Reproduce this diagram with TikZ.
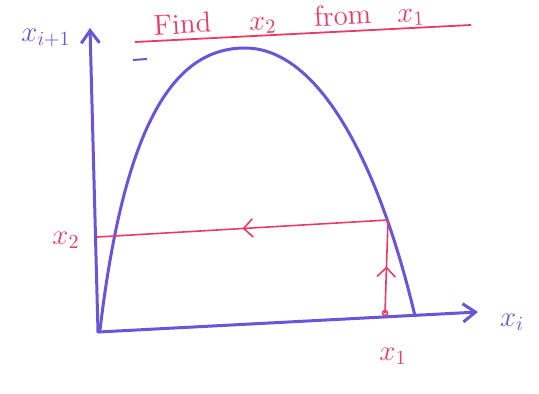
\documentclass[tikz,border=0pt]{standalone}
\usepackage{amsmath}
\usepackage{tikz}
\usetikzlibrary{arrows.meta,decorations.markings}
\definecolor{penblue}{RGB}{105,85,215}
\definecolor{penred}{RGB}{232,60,100}
\tikzset{
  axis line/.style = {penblue, line width=1.5pt, line cap=round,
                      -{Straight Barb[length=2.2mm,width=3.2mm]}},
  map curve/.style = {penblue, line width=1.5pt, line cap=round},
  cobweb/.style    = {penred, line width=0.8pt},
  mid arrow/.style = {postaction={decorate}, decoration={markings,
                      mark=at position 0.5 with {\arrow{Straight Barb[length=1.6mm,width=3.2mm]}}}},
  redlabel/.style  = {text=penred, font=\Large},
  bluelabel/.style = {text=penblue, font=\Large},
}
\begin{document}
\begin{tikzpicture}[x=0.5pt,y=-0.5pt]
  \useasboundingbox (0,0) rectangle (539,393);

  % axes
  \coordinate (O) at (98,332);
  \coordinate (ytip) at (90,28);
  \coordinate (xtip) at (478,312);
  \draw[axis line] (O) -- (ytip);
  \draw[axis line] (O) -- (xtip);
  \node[bluelabel] (ylab) at (46,38) {$x_{i+1}$};
  \node[bluelabel] (xlab) at (512,322) {$x_i$};
  \draw[penblue, line width=1pt] (133,60) -- (147,59);

  % title
  \node[redlabel, rotate=3, inner sep=1pt] (title) at (289,20)
       {Find\hspace{19pt}$x_2$\hspace{19pt}from\hspace{13pt}$x_1$};
  \coordinate (ulA) at (135,42);
  \coordinate (ulB) at (471,25);
  \draw[penred, line width=0.9pt] (ulA) -- (ulB);

  % map
  \coordinate (P) at (388,220);
  \draw[map curve] (100,330) .. controls (126,110) and (180,48) .. (245,48)
                   .. controls (318,48) and (378,160) .. (415,316);

  % cobweb step
  \coordinate (foot) at (385,313);
  \coordinate (Q) at (97,237);
  \draw[cobweb] (foot) circle (2.5);
  \draw[cobweb, mid arrow] (foot) -- (P);
  \draw[cobweb, mid arrow] (P) -- (Q);
  \node[redlabel] (xtwo) at (66,240) {$x_2$};
  \node[redlabel] (xone) at (393,356) {$x_1$};
\end{tikzpicture}
\end{document}
